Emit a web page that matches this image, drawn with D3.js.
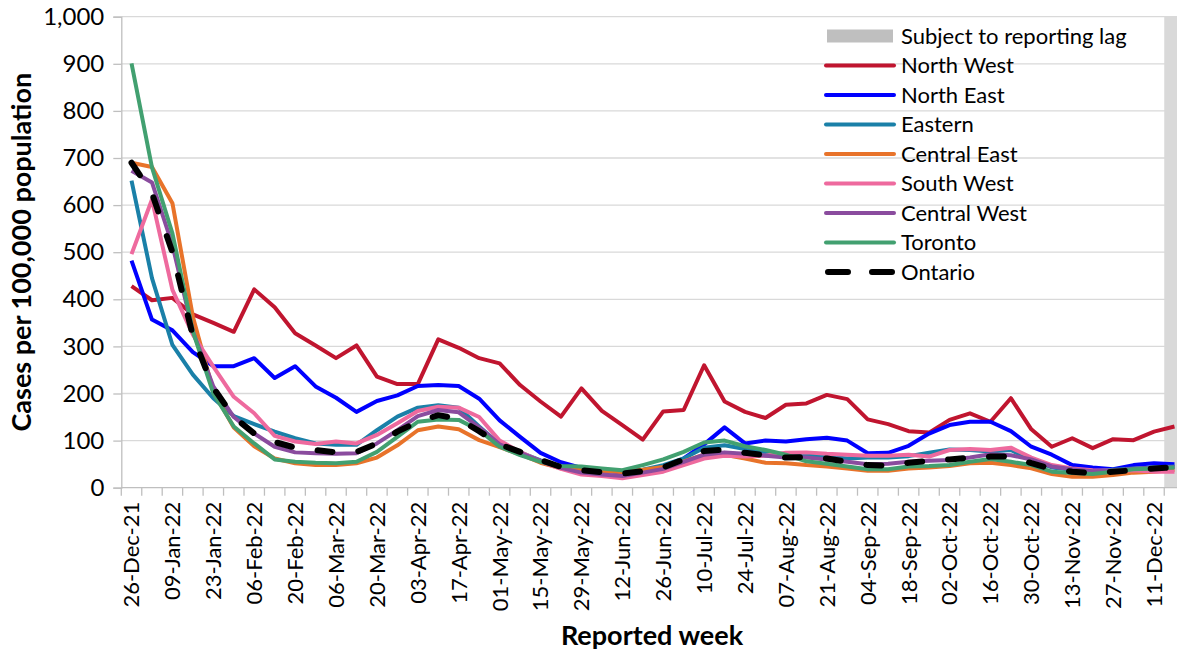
<!DOCTYPE html>
<html>
<head>
<meta charset="utf-8">
<script src="https://cdn.jsdelivr.net/npm/d3@7"></script>
<style>
  body { margin: 0; background: #fff; }
  svg { font-family: Lato, "Liberation Sans", sans-serif; }
</style>
</head>
<body>
<svg id="chart" width="1177" height="655"></svg>
<script>
// reported weeks (categories)
const weeks = ["26-Dec-21","02-Jan-22","09-Jan-22","16-Jan-22","23-Jan-22","30-Jan-22","06-Feb-22","13-Feb-22","20-Feb-22","27-Feb-22",
  "06-Mar-22","13-Mar-22","20-Mar-22","27-Mar-22","03-Apr-22","10-Apr-22","17-Apr-22","24-Apr-22","01-May-22","08-May-22",
  "15-May-22","22-May-22","29-May-22","05-Jun-22","12-Jun-22","19-Jun-22","26-Jun-22","03-Jul-22","10-Jul-22","17-Jul-22",
  "24-Jul-22","31-Jul-22","07-Aug-22","14-Aug-22","21-Aug-22","28-Aug-22","04-Sep-22","11-Sep-22","18-Sep-22","25-Sep-22",
  "02-Oct-22","09-Oct-22","16-Oct-22","23-Oct-22","30-Oct-22","06-Nov-22","13-Nov-22","20-Nov-22","27-Nov-22","04-Dec-22",
  "11-Dec-22","18-Dec-22"];

// weeks subject to reporting lag
const lagWeeks = ["18-Dec-22"];

// cases per 100,000 population, one value per week
const northWest = [428,398,403,368,350,331,421,383,328,302,275,302,236,220,220,315,297,275,264,218,
  183,151,211,163,133,102,162,165,260,183,161,148,176,179,197,188,145,135,120,117,
  144,158,140,190,124,87,105,84,103,101,119,130];
const northEast = [482,357,334,288,258,258,275,233,258,215,191,161,184,196,216,218,216,189,143,108,
  74,54,42,37,32,33,45,62,92,128,94,100,98,103,106,100,73,74,89,115,
  133,140,140,120,87,70,48,43,39,48,52,50];
const eastern = [652,445,303,240,190,152,135,119,105,94,91,91,122,151,170,175,170,130,92,75,
  58,44,38,36,35,38,48,62,85,90,82,75,70,69,66,62,64,64,67,74,
  81,80,77,80,59,43,38,34,38,41,43,45];
const centralEast = [690,681,604,363,205,128,88,62,52,48,48,52,64,90,122,130,124,101,86,71,
  53,41,37,36,33,38,44,56,70,70,62,53,52,48,45,41,36,36,41,43,
  46,52,53,48,41,29,23,23,27,32,34,38];
const southWest = [496,612,420,325,257,193,158,110,98,93,98,94,112,137,163,172,170,150,100,76,
  56,40,28,25,20,27,34,48,62,68,66,68,74,75,72,70,68,68,70,66,
  80,82,80,85,64,48,41,37,36,37,34,34];
const centralWest = [673,648,515,332,215,150,115,87,75,73,72,73,94,122,152,165,160,128,92,74,
  57,42,32,28,25,32,40,55,70,75,72,68,64,64,60,55,50,51,55,57,
  59,64,71,69,60,45,39,35,36,40,42,44];
const toronto = [901,680,540,332,200,130,94,60,55,53,52,55,76,108,140,145,144,122,87,69,
  55,46,45,41,37,48,60,76,96,100,88,80,70,56,51,45,39,39,45,46,
  48,55,61,55,48,34,31,29,34,39,41,43];
const ontario = [690,625,500,322,212,150,115,97,85,80,75,76,94,119,140,154,146,120,92,76,
  59,44,37,33,30,35,43,60,78,81,74,69,64,65,62,55,48,47,53,57,
  60,64,66,66,52,40,34,31,34,37,41,43];

const yTicks = [0,100,200,300,400,500,600,700,800,900,1000];

const series = [
  { name: "North West", values: northWest, color: "#C0152F" },
  { name: "North East", values: northEast, color: "#0000FF" },
  { name: "Eastern", values: eastern, color: "#1A80A8" },
  { name: "Central East", values: centralEast, color: "#E8732A" },
  { name: "South West", values: southWest, color: "#EE6A9E" },
  { name: "Central West", values: centralWest, color: "#8A4C9E" },
  { name: "Toronto", values: toronto, color: "#42A070" },
  { name: "Ontario", values: ontario, color: "#000000", dashed: true }
];

const svg = d3.select("#chart");

// plot area
const plotLeft = 121.3, plotRight = 1184.7, plotTop = 16.7, plotBottom = 487.7;

const x = d3.scaleBand().domain(weeks).range([plotLeft, plotRight]).paddingInner(0).paddingOuter(0);
const y = d3.scaleLinear().domain([0, 1000]).range([plotBottom, plotTop]);

// gridlines
svg.append("g")
  .selectAll("line")
  .data(yTicks.filter(d => d > 0))
  .join("line")
  .attr("x1", plotLeft).attr("x2", plotRight)
  .attr("y1", d => y(d)).attr("y2", d => y(d))
  .attr("stroke", "#D9D9D9")
  .attr("stroke-width", 1.3);

// reporting lag band
svg.append("g")
  .selectAll("rect")
  .data(lagWeeks)
  .join("rect")
  .attr("x", d => x(d))
  .attr("width", x.bandwidth())
  .attr("y", plotTop)
  .attr("height", plotBottom - plotTop)
  .attr("fill", "#D9D9D9");

// y axis
const yAxis = svg.append("g")
  .attr("transform", `translate(${plotLeft},0)`)
  .call(d3.axisLeft(y).tickValues(yTicks).tickFormat(d3.format(",")).tickSize(8).tickPadding(9));
yAxis.select(".domain").attr("stroke", "#BFBFBF").attr("stroke-width", 1.3);
yAxis.selectAll(".tick line").attr("stroke", "#BFBFBF").attr("stroke-width", 1.3);
yAxis.selectAll(".tick text").attr("font-size", 24).attr("fill", "#000").attr("font-family", "Lato, 'Liberation Sans', sans-serif");

// x axis: baseline, ticks between categories, labels every second week
svg.append("line")
  .attr("x1", plotLeft).attr("x2", plotRight)
  .attr("y1", plotBottom).attr("y2", plotBottom)
  .attr("stroke", "#BFBFBF").attr("stroke-width", 1.3);

svg.append("g")
  .selectAll("line")
  .data(weeks)
  .join("line")
  .attr("x1", d => x(d)).attr("x2", d => x(d))
  .attr("y1", plotBottom).attr("y2", plotBottom + 8)
  .attr("stroke", "#BFBFBF").attr("stroke-width", 1.3);

const xAxis = svg.append("g")
  .attr("transform", `translate(0,${plotBottom})`)
  .call(d3.axisBottom(x).tickValues(weeks.filter((d, i) => i % 2 === 0)).tickSize(0));
xAxis.select(".domain").remove();
xAxis.selectAll(".tick text")
  .attr("font-size", 22)
  .attr("fill", "#000")
  .attr("font-family", "Lato, 'Liberation Sans', sans-serif")
  .attr("transform", "rotate(-90)")
  .attr("text-anchor", "end")
  .attr("x", -14)
  .attr("y", 0)
  .attr("dy", "0.36em");

// lines
const line = d3.line()
  .x((d, i) => x(weeks[i]) + x.bandwidth() / 2)
  .y(d => y(d));

svg.append("g")
  .selectAll("path")
  .data(series)
  .join("path")
  .attr("d", d => line(d.values))
  .attr("fill", "none")
  .attr("stroke", d => d.color)
  .attr("stroke-width", d => d.dashed ? 6 : 4)
  .attr("stroke-linejoin", "round")
  .attr("stroke-linecap", d => d.dashed ? "round" : "butt")
  .attr("stroke-dasharray", d => d.dashed ? "15 26" : null);

// axis titles
svg.append("text")
  .attr("transform", `translate(31,${(plotTop + plotBottom) / 2}) rotate(-90)`)
  .attr("text-anchor", "middle")
  .attr("font-size", 27)
  .attr("font-weight", "bold")
  .text("Cases per 100,000 population");

svg.append("text")
  .attr("x", (plotLeft + plotRight) / 2 - 1)
  .attr("y", 645)
  .attr("text-anchor", "middle")
  .attr("font-size", 27)
  .attr("font-weight", "bold")
  .text("Reported week");

// legend
const legendItems = [{ name: "Subject to reporting lag", lag: true }].concat(series);
const legend = svg.append("g")
  .selectAll("g")
  .data(legendItems)
  .join("g")
  .attr("transform", (d, i) => `translate(826,${36 + i * 29.5})`);

legend.filter(d => d.lag).append("rect")
  .attr("x", 1).attr("y", -6.5)
  .attr("width", 66).attr("height", 13)
  .attr("fill", "#BFBFBF");

legend.filter(d => !d.lag).append("line")
  .attr("x1", d => d.dashed ? 2 : 0).attr("x2", 68)
  .attr("y1", 0).attr("y2", 0)
  .attr("stroke", d => d.color)
  .attr("stroke-width", d => d.dashed ? 6 : 4)
  .attr("stroke-linecap", "round")
  .attr("stroke-dasharray", d => d.dashed ? "20 24" : null);

legend.append("text")
  .attr("x", 75)
  .attr("dy", "0.36em")
  .attr("font-size", 22)
  .attr("fill", "#000")
  .text(d => d.name);
</script>
</body>
</html>
